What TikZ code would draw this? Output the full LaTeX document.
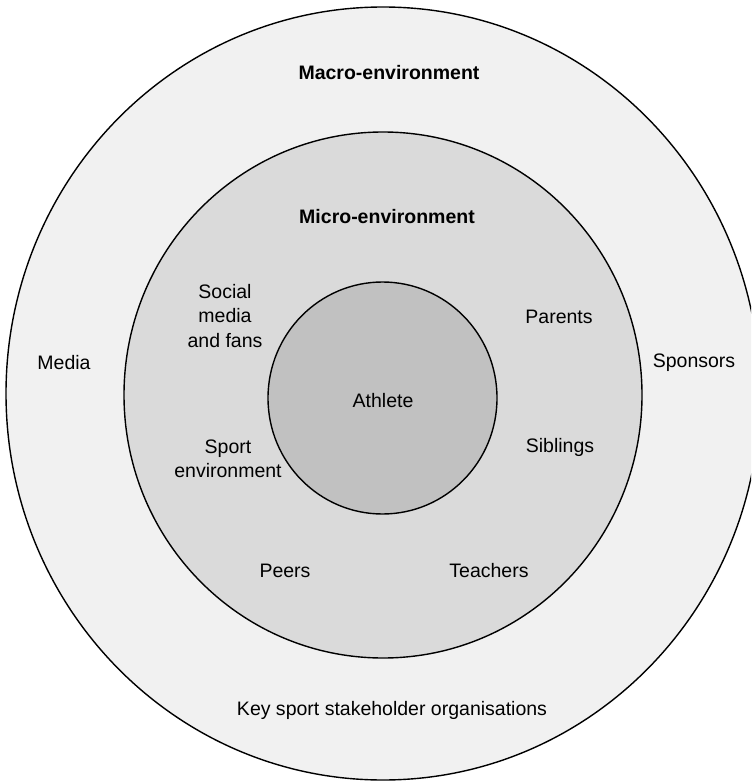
\documentclass[tikz,border=0pt]{standalone}
\usepackage{fontspec}
\setmainfont{Liberation Sans}
\definecolor{outerfill}{HTML}{F1F1F1}
\definecolor{midfill}{HTML}{DADADA}
\definecolor{innerfill}{HTML}{C1C1C1}
\tikzset{
  ring/.style={draw=black, line width=1.4pt},
  lbl/.style={font=\fontsize{19.5}{24.5}\selectfont, align=center, inner sep=0pt, text=black},
  title/.style={lbl, font=\fontsize{19.5}{24.5}\selectfont\bfseries}
}
\begin{document}
\begin{tikzpicture}[x=1pt,y=-1pt]
\useasboundingbox (0,0) rectangle (751,783);
\clip (0,0) rectangle (751,783);
\fill[white] (0,0) rectangle (751,783);
\draw[ring, fill=outerfill] (383,393.5) ellipse [x radius=377, y radius=386.5];
\draw[ring, fill=midfill] (383,395) ellipse [x radius=259, y radius=263];
\draw[ring, fill=innerfill] (382.5,398) ellipse [x radius=114.5, y radius=116];
\node[title] (macro) at (389,73) {Macro-environment};
\node[title] (micro) at (387,217) {Micro-environment};
\node[lbl] (social) at (225,316) {Social\\media\\and fans};
\node[lbl] (parents) at (559,317) {Parents};
\node[lbl] (media) at (64,363) {Media};
\node[lbl] (athlete) at (383,401) {Athlete};
\node[lbl] (sponsors) at (694,363) {Sponsors};
\node[lbl] (sport) at (228,459) {Sport\\environment};
\node[lbl] (siblings) at (560,447) {Siblings};
\node[lbl] (peers) at (285,571) {Peers};
\node[lbl] (teachers) at (489,571) {Teachers};
\node[lbl] (key) at (392,710) {Key sport stakeholder organisations};
\end{tikzpicture}
\end{document}
